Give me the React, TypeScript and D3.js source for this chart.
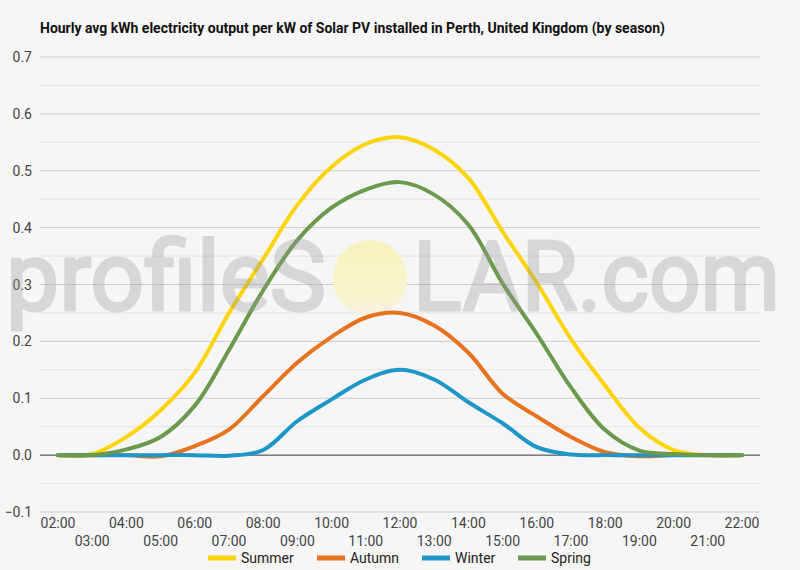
import React from "react";
import * as d3 from "d3";

const hours = ["02:00","03:00","04:00","05:00","06:00","07:00","08:00","09:00","10:00","11:00","12:00","13:00","14:00","15:00","16:00","17:00","18:00","19:00","20:00","21:00","22:00"];

const summer = [0, 0.002, 0.032, 0.079, 0.145, 0.25, 0.345, 0.44, 0.507, 0.547, 0.559, 0.537, 0.487, 0.393, 0.303, 0.204, 0.122, 0.048, 0.009, 0, 0];
const autumn = [0, 0, 0, -0.002, 0.016, 0.045, 0.104, 0.163, 0.208, 0.242, 0.25, 0.228, 0.18, 0.108, 0.068, 0.032, 0.005, -0.002, 0, 0, 0];
const winter = [0, 0, 0, 0, 0, -0.001, 0.009, 0.06, 0.098, 0.133, 0.15, 0.133, 0.093, 0.056, 0.014, 0.001, 0, 0, 0, 0, 0];
const spring = [0, 0, 0.01, 0.032, 0.087, 0.185, 0.29, 0.378, 0.435, 0.467, 0.48, 0.458, 0.405, 0.302, 0.213, 0.119, 0.044, 0.008, 0.002, 0, 0];

const seriesNames = ["Summer", "Autumn", "Winter", "Spring"];
const seriesData = [summer, autumn, winter, spring];
const seriesColors = ["#fdd30a", "#e5731f", "#1f96c8", "#6c9a4c"];

const yMajorTicks = [-0.1, 0, 0.1, 0.2, 0.3, 0.4, 0.5, 0.6, 0.7];
const yMinorTicks = [-0.05, 0.05, 0.15, 0.25, 0.35, 0.45, 0.55, 0.65];

const title = "Hourly avg kWh electricity output per kW of Solar PV installed in Perth, United Kingdom (by season)";

export default function App() {
  const W = 800, H = 570;
  const left = 40, right = 760, top = 57, bottom = 512;
  const x = d3.scalePoint<string>().domain(hours).range([58, 742]);
  const y = d3.scaleLinear().domain([-0.1, 0.7]).range([bottom, top]);
  const line = d3.line<number>()
    .x((_, i) => x(hours[i]) as number)
    .y((d) => y(d))
    .curve(d3.curveCatmullRom.alpha(0.5));
  const legendX = [208, 317, 422, 518];
  const font = "Roboto, 'Noto Sans', sans-serif";

  return (
    <svg width={W} height={H} style={{ position: "absolute", left: 0, top: 0 }} fontFamily={font}>
      <defs>
        <linearGradient id="sun" x1="0" y1="0" x2="0" y2="1">
          <stop offset="0%" stopColor="#f6f3bd" />
          <stop offset="70%" stopColor="#f8f5cd" />
          <stop offset="100%" stopColor="#f8f1e2" />
        </linearGradient>
      </defs>
      <rect x={0} y={0} width={W} height={H} fill="#f6f6f6" />
      <text x={40} y={33} fontSize={14} fontWeight="bold" fill="#111" textLength={625} lengthAdjust="spacingAndGlyphs">{title}</text>

      {yMinorTicks.map((t) => (
        <line key={"mn" + t} x1={left} x2={right} y1={y(t)} y2={y(t)} stroke="#e4e4e4" strokeWidth={1} />
      ))}
      {yMajorTicks.map((t) => (
        <line key={"mj" + t} x1={left} x2={right} y1={y(t)} y2={y(t)} stroke={t === 0 ? "#333" : "#cccccc"} strokeWidth={1} />
      ))}
      {yMajorTicks.map((t) => (
        <text key={"yl" + t} x={32} y={y(t) + 5} fontSize={14} fill="#444" textAnchor="end">{d3.format(".1f")(t)}</text>
      ))}

      {hours.map((h, i) => (
        <text key={h} x={x(h) as number} y={i % 2 === 0 ? 528 : 546} fontSize={14} fill="#444" textAnchor="middle">{h}</text>
      ))}

      {/* watermark sun */}
      <ellipse cx={370} cy={278} rx={37} ry={38} fill="url(#sun)" />

      {seriesData.map((s, i) => (
        <path key={seriesNames[i]} d={line(s) || ""} fill="none" stroke={seriesColors[i]} strokeWidth={4} strokeLinejoin="round" strokeLinecap="round" />
      ))}

      {/* watermark text */}
      <g fill="#999" stroke="#999" strokeWidth={3} strokeLinejoin="round" opacity={0.33} fontSize={96} fontFamily="Roboto, sans-serif">
        <text x={6} y={310} textLength={320} lengthAdjust="spacingAndGlyphs">profileS</text>
        <text x={413} y={310} textLength={367} lengthAdjust="spacingAndGlyphs">LAR.com</text>
      </g>

      {seriesNames.map((n, i) => (
        <g key={"lg" + n}>
          <line x1={legendX[i]} x2={legendX[i] + 28} y1={558} y2={558} stroke={seriesColors[i]} strokeWidth={5} />
          <text x={legendX[i] + 33} y={563} fontSize={14} fill="#222">{n}</text>
        </g>
      ))}
    </svg>
  );
}
